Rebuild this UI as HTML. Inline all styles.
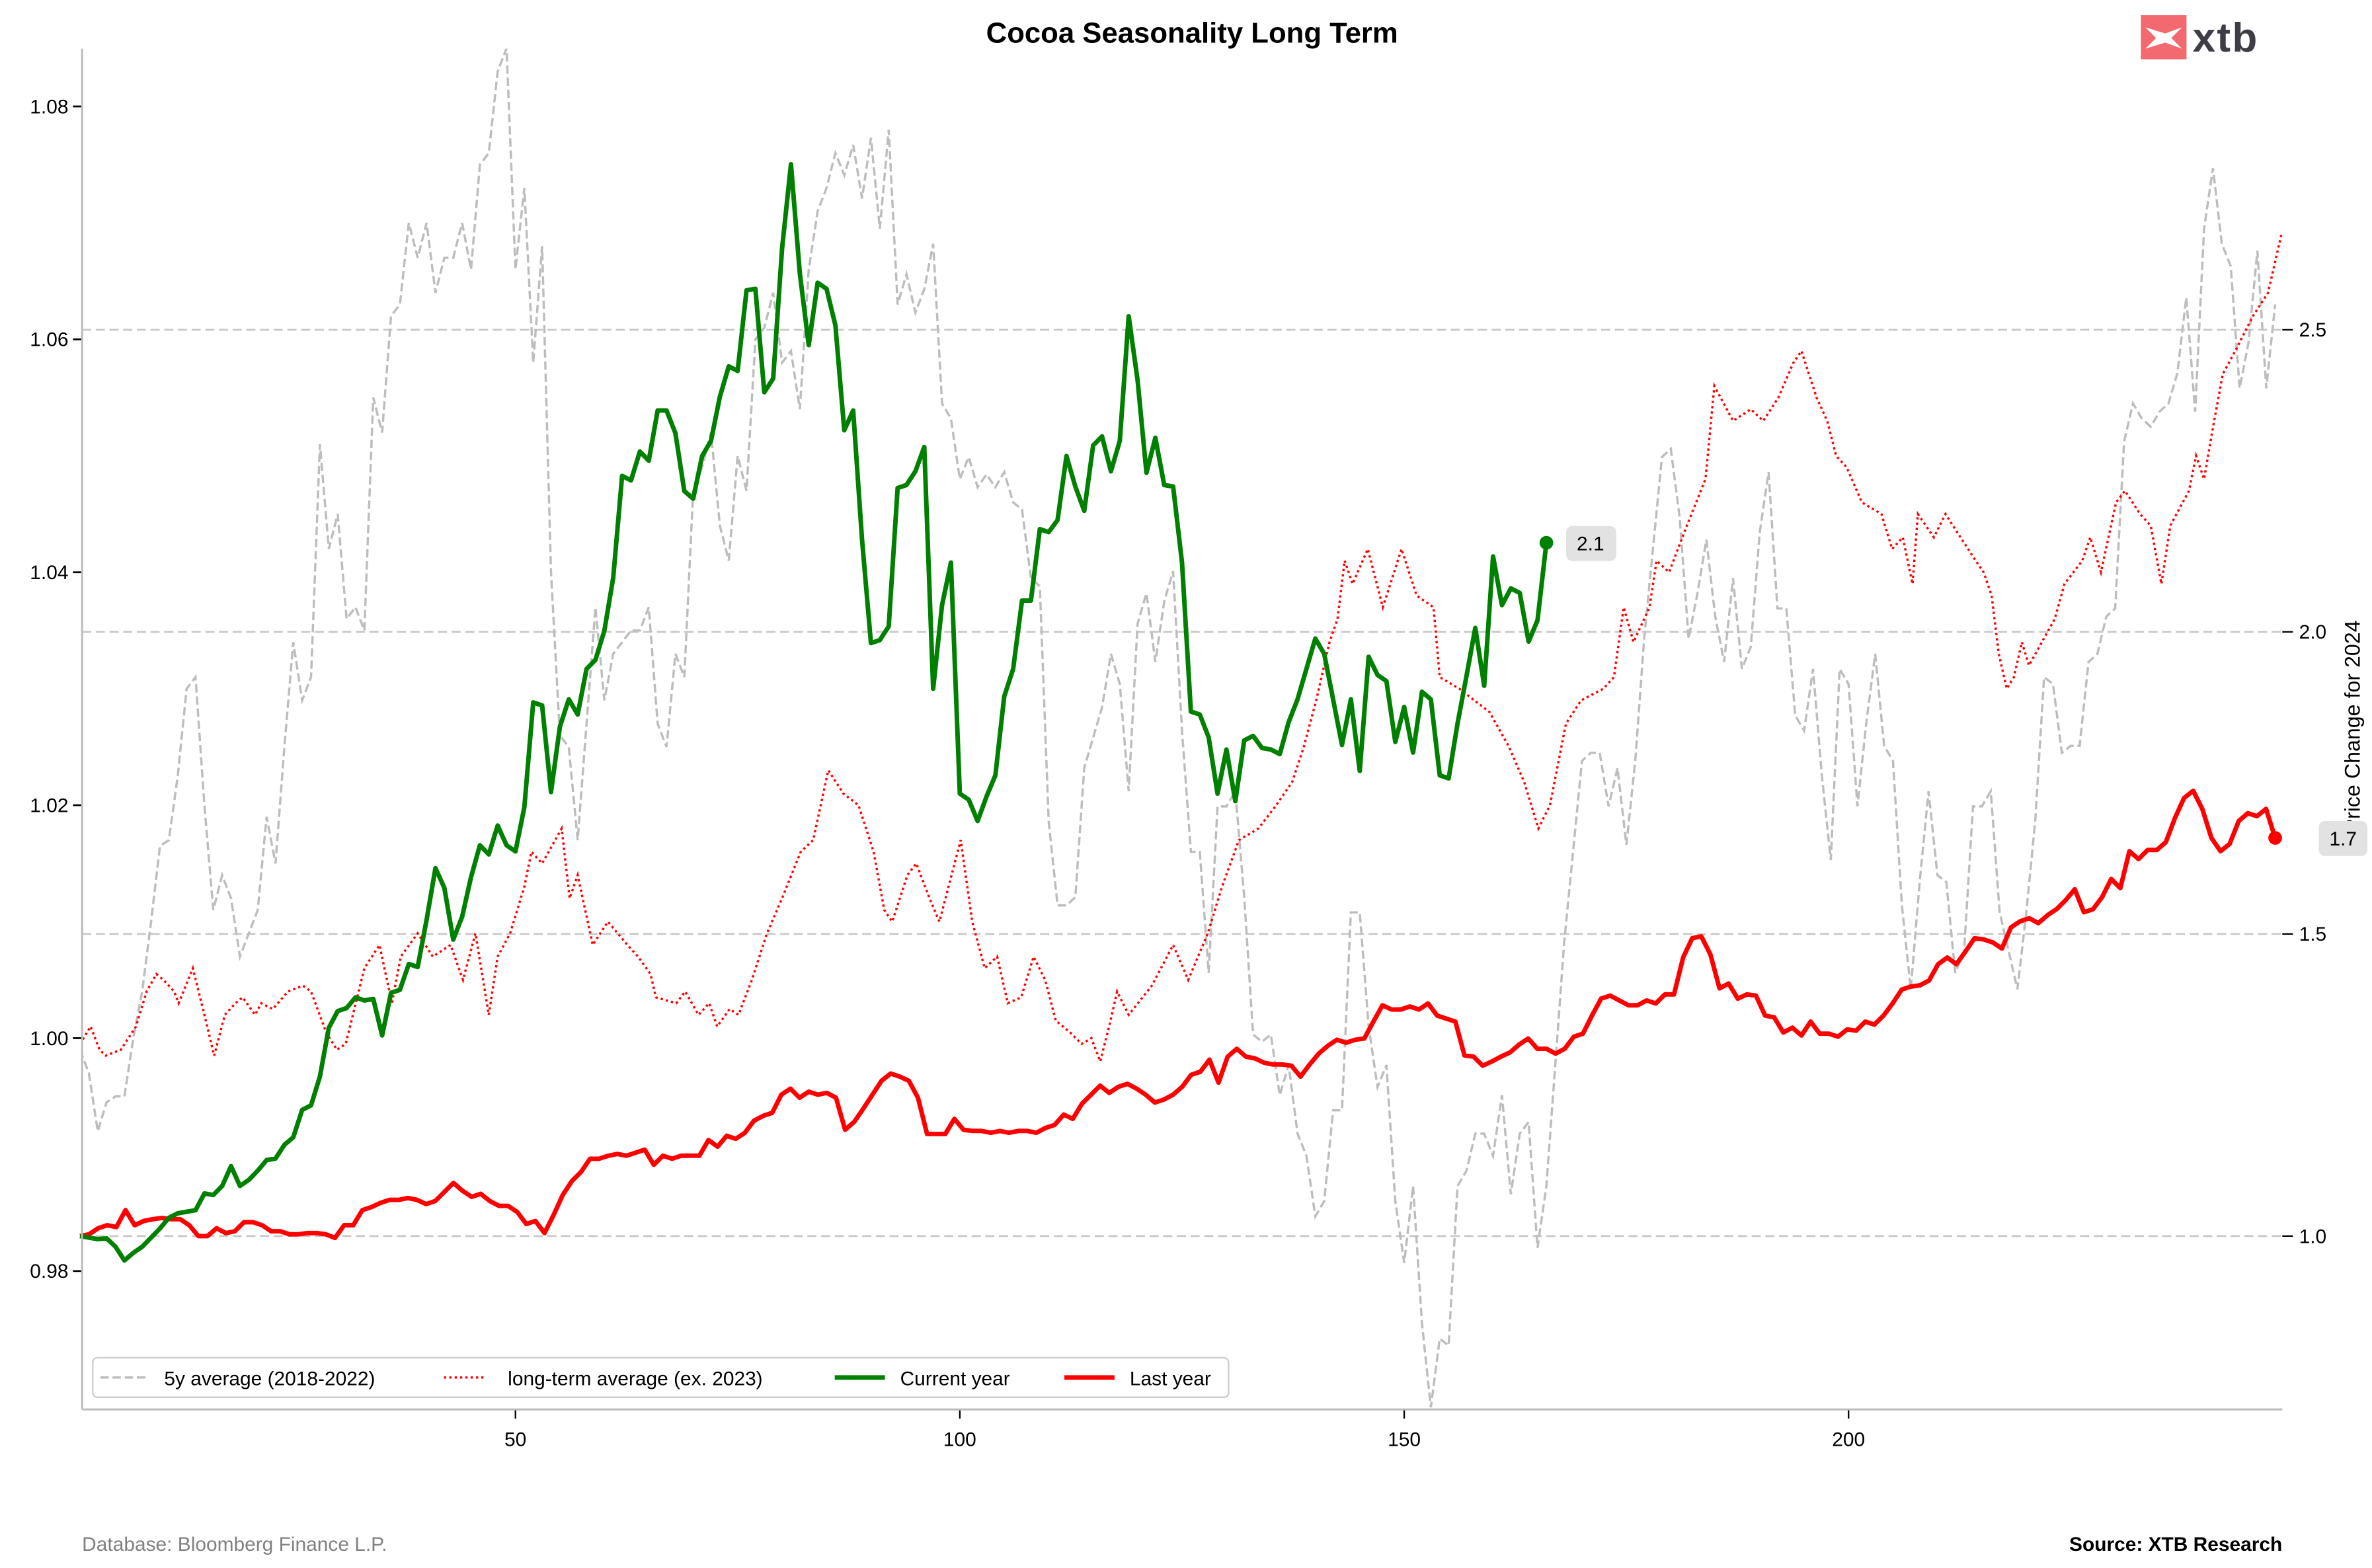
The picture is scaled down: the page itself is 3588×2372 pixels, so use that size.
<!DOCTYPE html>
<html><head><meta charset="utf-8"><style>
html,body{margin:0;padding:0;background:#fff;}
svg{display:block;font-family:"Liberation Sans",Arial,sans-serif;}
</style></head><body>
<svg id="chart" width="3588" height="2372" viewBox="0 0 1560 1031.3" preserveAspectRatio="none" xmlns="http://www.w3.org/2000/svg">
<rect x="0" y="0" width="1560" height="1031.3" fill="#fff"/>
<text x="784" y="28" text-anchor="middle" font-size="19" font-weight="bold" fill="#000">Cocoa Seasonality Long Term</text>
<g>
<rect x="1408" y="10" width="30" height="29" fill="#f26a6f"/>
<path d="M1411 18 L1424 22 L1435 18 L1428 25 L1435 32 L1424 28 L1411 32 L1418 25 Z" fill="#fff"/>
<text x="1442" y="34" font-size="27" font-weight="bold" fill="#3d3d45" letter-spacing="1">xtb</text>
</g>
<g id="grid"></g>
<g id="series"></g>
<g id="axes"></g>
<g>
<rect x="61" y="893" width="747" height="26" rx="3" fill="#fff" fill-opacity="0.85" stroke="#ccc" stroke-width="1"/>
<line x1="66" y1="906" x2="97" y2="906" stroke="#bbb" stroke-width="1.5" stroke-dasharray="5.5,2.5"/>
<text x="108" y="911" font-size="13">5y average (2018-2022)</text>
<line x1="292" y1="906" x2="320" y2="906" stroke="#f00" stroke-width="1.5" stroke-dasharray="1.5,2"/>
<text x="334" y="911" font-size="13">long-term average (ex. 2023)</text>
<line x1="549" y1="906" x2="582" y2="906" stroke="#008000" stroke-width="3"/>
<text x="592" y="911" font-size="13">Current year</text>
<line x1="700" y1="906" x2="733" y2="906" stroke="#f00" stroke-width="3"/>
<text x="743" y="911" font-size="13">Last year</text>
</g>
<text transform="translate(1552,478) rotate(-90)" text-anchor="middle" font-size="14">Price Change for 2024</text>
<g>
<rect x="1030" y="346" width="33" height="23" rx="4" fill="#e2e2e2"/>
<text x="1046" y="362" text-anchor="middle" font-size="13">2.1</text>
</g>
<g>
<rect x="1525" y="540" width="32" height="23" rx="4" fill="#e2e2e2"/>
<text x="1541" y="556" text-anchor="middle" font-size="13">1.7</text>
</g>
<text x="54" y="1020" font-size="13" fill="#808080">Database: Bloomberg Finance L.P.</text>
<text x="1501" y="1020" text-anchor="end" font-size="13" font-weight="bold">Source: XTB Research</text>
</svg>
<script>
const xTicks=[50,100,150,200];
const leftTicks=[0.98,1.00,1.02,1.04,1.06,1.08];
const leftTickLabels=["0.98","1.00","1.02","1.04","1.06","1.08"];
const rightTicks=[1.0,1.5,2.0,2.5];
const rightTickLabels=["1.0","1.5","2.0","2.5"];
const greyValues=[0.999,0.997,0.992,0.9945,0.995,0.995,1.000,1.004,1.010,1.0165,1.017,1.0225,1.030,1.031,1.020,1.011,1.014,1.012,1.007,1.009,1.011,1.019,1.015,1.025,1.034,1.029,1.031,1.051,1.042,1.045,1.036,1.037,1.035,1.055,1.052,1.062,1.063,1.070,1.067,1.070,1.064,1.067,1.067,1.070,1.066,1.075,1.076,1.083,1.085,1.066,1.073,1.058,1.068,1.040,1.026,1.025,1.017,1.027,1.037,1.029,1.033,1.034,1.035,1.035,1.037,1.027,1.025,1.033,1.031,1.047,1.049,1.052,1.044,1.041,1.050,1.047,1.060,1.061,1.064,1.058,1.059,1.054,1.066,1.071,1.073,1.076,1.0741,1.0767,1.0721,1.0773,1.0695,1.078,1.063,1.0656,1.0623,1.0643,1.0682,1.0545,1.0532,1.048,1.0499,1.0473,1.0484,1.0473,1.0486,1.046,1.0454,1.0395,1.0388,1.0186,1.0114,1.0114,1.0121,1.0232,1.0258,1.0284,1.033,1.0304,1.0212,1.0356,1.0382,1.0323,1.0375,1.0401,1.0264,1.016,1.016,1.0056,1.0199,1.0199,1.0212,1.0121,1.0003,0.9997,1.0003,0.9951,0.9977,0.9918,0.9899,0.9847,0.986,0.9938,0.9938,1.0108,1.0108,1.001,0.9958,0.9977,0.986,0.9807,0.9873,0.9755,0.9683,0.9742,0.9736,0.9873,0.9886,0.9918,0.9918,0.9899,0.9951,0.9866,0.9918,0.9928,0.982,0.9873,0.9977,1.0082,1.016,1.0238,1.0245,1.0245,1.0199,1.0232,1.0166,1.0238,1.0343,1.0421,1.0499,1.0506,1.0447,1.0343,1.0382,1.0428,1.0362,1.0323,1.0395,1.0317,1.0336,1.0434,1.0486,1.0369,1.0369,1.0277,1.0264,1.0317,1.0225,1.0153,1.0317,1.0304,1.0199,1.0271,1.033,1.0251,1.0238,1.0114,1.0042,1.0134,1.0212,1.014,1.0134,1.0056,1.0075,1.0199,1.0199,1.0212,1.0108,1.0075,1.0042,1.0108,1.0186,1.031,1.0304,1.0245,1.0251,1.0251,1.0323,1.033,1.0362,1.0369,1.0512,1.0545,1.0532,1.0525,1.0538,1.0545,1.0571,1.0636,1.0538,1.0695,1.0747,1.0682,1.0663,1.0558,1.0597,1.0676,1.0558,1.063];
const dottedDays=[1,2.2,3.2,3.9,5.6,7.3,8.5,9.6,10.4,11.6,12.1,13.7,15,16.1,17.3,18.5,19.3,20.7,21.4,22.7,24.4,26.1,27,28.7,29.9,30.9,33,34.7,36.1,37.1,39,40.7,42.7,44.1,45.5,47,48,49.4,51,51.8,53,55.2,56.1,57,58.7,60.4,62.6,63.8,65.2,65.8,68.1,69.1,70.6,71.8,72.7,74.1,75.1,76.6,78.3,80,82.1,83.5,85.2,86.9,88.6,90.3,91.5,92.4,94.1,95.1,96.6,97.7,100.1,101.4,102.8,104.2,105.4,106.9,108.3,109.6,110.8,112.4,113.7,114.8,115.8,116.8,117.7,119,121.6,124,125.7,127.9,129.5,131.4,133.6,135.6,137.4,138.7,140.1,141.6,142.5,143.3,144.2,145.9,147.6,149.7,151.4,153.3,154,156.2,159.6,161.8,163.5,165.1,166.4,168.2,169.9,172.4,173.6,174.7,175.8,177.6,178.4,179.8,181.8,183.9,184.9,187,189,190.4,192.1,193.8,194.7,196.4,197.6,198.6,199.8,201.5,203.7,204.9,206.1,207.2,207.8,209.6,210.9,212.6,214.3,215.2,216.1,216.9,217.8,218.6,219.5,220.3,223.2,224.3,226.3,227.2,228.4,230.1,231.1,232.8,234,235.2,236.2,238.3,239.1,240,240.9,242.1,243.5,245.5,247.2,248.7];
const dottedValues=[0.9995,1.001,0.999,0.9985,0.999,1.001,1.004,1.0055,1.005,1.004,1.003,1.006,1.002,0.9985,1.002,1.003,1.0035,1.002,1.003,1.0025,1.004,1.0045,1.004,1.0005,0.999,0.9995,1.006,1.008,1.003,1.007,1.009,1.007,1.008,1.005,1.009,1.002,1.007,1.009,1.013,1.016,1.015,1.018,1.012,1.014,1.008,1.010,1.008,1.007,1.0055,1.0035,1.003,1.004,1.002,1.003,1.001,1.0025,1.002,1.005,1.009,1.012,1.016,1.017,1.023,1.021,1.020,1.016,1.011,1.010,1.014,1.015,1.012,1.010,1.017,1.010,1.006,1.007,1.003,1.0035,1.007,1.005,1.0015,1.0005,0.9995,1.000,0.998,1.001,1.004,1.002,1.0045,1.008,1.005,1.009,1.013,1.017,1.018,1.020,1.022,1.025,1.029,1.034,1.036,1.041,1.039,1.042,1.037,1.042,1.038,1.037,1.031,1.030,1.028,1.025,1.022,1.018,1.020,1.027,1.029,1.030,1.031,1.037,1.034,1.037,1.041,1.040,1.044,1.048,1.056,1.053,1.054,1.053,1.055,1.058,1.059,1.055,1.053,1.050,1.049,1.046,1.045,1.042,1.043,1.039,1.045,1.043,1.045,1.043,1.041,1.040,1.038,1.033,1.030,1.031,1.034,1.032,1.036,1.039,1.041,1.043,1.040,1.046,1.047,1.045,1.044,1.039,1.044,1.047,1.050,1.048,1.052,1.057,1.059,1.062,1.064,1.069];
const greenValues=[1.000,0.9975,0.995,0.9962,0.9824,0.9597,0.9723,0.9824,0.9975,1.0126,1.0302,1.0377,1.0403,1.0428,1.0705,1.068,1.083,1.1158,1.083,1.0931,1.1082,1.1258,1.1283,1.151,1.1635,1.2088,1.2164,1.2642,1.3447,1.3724,1.3774,1.395,1.39,1.3925,1.3321,1.4026,1.4076,1.4504,1.4454,1.5234,1.609,1.5763,1.4907,1.5285,1.5939,1.6468,1.6317,1.6795,1.6468,1.6367,1.7097,1.8833,1.8783,1.7349,1.8431,1.8884,1.8632,1.9387,1.9537,2.0016,2.0896,2.2582,2.2507,2.2985,2.2834,2.3664,2.3664,2.3287,2.2331,2.2205,2.291,2.3161,2.3891,2.4394,2.4319,2.5653,2.5678,2.3966,2.4193,2.6344,2.774,2.5929,2.4746,2.5778,2.5678,2.5074,2.3337,2.3664,2.1525,1.9814,1.9864,2.009,2.2381,2.2431,2.2657,2.306,1.9059,2.0443,2.1147,1.7323,1.7223,1.6871,1.7273,1.7626,1.8933,1.9387,2.0518,2.0518,2.1701,2.1651,2.1852,2.291,2.2405,2.2003,2.3085,2.3236,2.2657,2.3161,2.5224,2.4167,2.2632,2.3211,2.2431,2.2405,2.1147,1.8681,1.8632,1.8254,1.7323,1.8053,1.7198,1.8204,1.8279,1.8078,1.8053,1.7977,1.8506,1.8884,1.9387,1.989,1.9638,1.8884,1.8128,1.8884,1.77,1.9588,1.9286,1.9186,1.8179,1.8757,1.8003,1.9009,1.8884,1.7626,1.7575,1.8481,1.9261,2.0066,1.9109,2.1248,2.0443,2.072,2.0645,1.984,2.0192,2.1475];
const redValues=[1.000,1.003,1.013,1.018,1.015,1.043,1.018,1.025,1.028,1.030,1.028,1.028,1.018,1.000,1.000,1.013,1.005,1.008,1.023,1.023,1.018,1.008,1.008,1.003,1.003,1.005,1.005,1.003,0.997,1.018,1.018,1.043,1.048,1.055,1.060,1.060,1.063,1.060,1.053,1.058,1.073,1.088,1.075,1.065,1.070,1.058,1.050,1.050,1.040,1.020,1.025,1.005,1.035,1.068,1.091,1.106,1.128,1.128,1.133,1.136,1.133,1.138,1.143,1.118,1.133,1.128,1.133,1.133,1.133,1.159,1.148,1.166,1.161,1.171,1.191,1.199,1.204,1.234,1.244,1.229,1.239,1.234,1.237,1.229,1.176,1.189,1.211,1.234,1.257,1.269,1.264,1.257,1.229,1.169,1.169,1.169,1.194,1.176,1.174,1.174,1.171,1.174,1.171,1.174,1.174,1.171,1.179,1.184,1.201,1.194,1.219,1.234,1.249,1.237,1.247,1.252,1.244,1.234,1.221,1.226,1.234,1.247,1.267,1.272,1.292,1.254,1.297,1.310,1.297,1.294,1.287,1.284,1.284,1.282,1.264,1.284,1.302,1.315,1.325,1.320,1.325,1.327,1.355,1.382,1.375,1.375,1.380,1.375,1.385,1.365,1.360,1.355,1.299,1.297,1.282,1.289,1.297,1.304,1.317,1.327,1.310,1.310,1.302,1.310,1.330,1.335,1.365,1.393,1.398,1.390,1.382,1.382,1.390,1.385,1.400,1.400,1.461,1.493,1.496,1.466,1.410,1.418,1.393,1.400,1.398,1.365,1.362,1.337,1.345,1.332,1.355,1.335,1.335,1.330,1.342,1.340,1.355,1.350,1.365,1.385,1.408,1.413,1.415,1.423,1.450,1.461,1.450,1.471,1.493,1.491,1.486,1.476,1.511,1.521,1.526,1.518,1.531,1.541,1.556,1.574,1.536,1.541,1.561,1.591,1.576,1.637,1.624,1.639,1.639,1.652,1.692,1.725,1.737,1.707,1.659,1.637,1.649,1.687,1.700,1.695,1.707,1.659];

const NS="http://www.w3.org/2000/svg";
const PL=54,PR=1501,PT=32,PB=927;
function xScale(d){return 339+(d-50)*5.845;}
function yLeft(v){return 70+(1.08-v)*7660;}
function yRight(v){return 813-(v-1.0)*397.4;}
function mk(tag,attrs,parent){const e=document.createElementNS(NS,tag);for(const k in attrs)e.setAttribute(k,attrs[k]);parent.appendChild(e);return e;}
const grid=document.getElementById('grid'),series=document.getElementById('series'),axes=document.getElementById('axes');

rightTicks.forEach((t,i)=>{
  const y=yRight(t);
  const g=mk('line',{x1:PL,x2:PR,y1:y,y2:y,stroke:'#c8c8c8','stroke-width':1.2,'stroke-dasharray':'6,3'},grid);
  
  
  const tk=mk('line',{x1:PR,x2:PR+7,y1:y,y2:y,stroke:'#000','stroke-width':1},axes);
  
  
  const tx=mk('text',{x:PR+11,y:y+4.5,'font-size':13},axes);
  tx.textContent=rightTickLabels[i];
  
  
});
leftTicks.forEach((t,i)=>{
  const y=yLeft(t);
  const tk=mk('line',{x1:PL-6,x2:PL,y1:y,y2:y,stroke:'#000','stroke-width':1.2},axes);
  
  
  const tx=mk('text',{x:PL-9,y:y+4.5,'font-size':13,'text-anchor':'end'},axes);
  tx.textContent=leftTickLabels[i];
  
  
});
xTicks.forEach(t=>{
  const x=xScale(t);
  const tk=mk('line',{x1:x,x2:x,y1:PB,y2:PB+6,stroke:'#000','stroke-width':1},axes);
  
  
  const tx=mk('text',{x:x,y:PB+24,'font-size':13,'text-anchor':'middle'},axes);
  tx.textContent=String(t);
  
  
});
const ls=mk('line',{x1:PL,x2:PL,y1:PT,y2:PB,stroke:'#bbb','stroke-width':1.3},axes);


const bs=mk('line',{x1:PL,x2:PR,y1:PB,y2:PB,stroke:'#bbb','stroke-width':1.3},axes);



function pathFrom(days,vals,yf){let d='';for(let i=0;i<vals.length;i++){const x=xScale(days[i]),y=yf(vals[i]);d+=(i?'L':'M')+x.toFixed(2)+' '+y.toFixed(2);}return d;}
const clip=mk('clipPath',{id:'plotclip'},series);
mk('rect',{x:PL,y:PT,width:PR-PL,height:PB-PT},clip);

const greyDays=greyValues.map((v,i)=>i+1);
const p1=mk('path',{d:pathFrom(greyDays,greyValues,yLeft),fill:'none',stroke:'#bdbdbd','stroke-width':1.5,'stroke-dasharray':'5.5,2.5','clip-path':'url(#plotclip)'},series);


const p2=mk('path',{d:pathFrom(dottedDays,dottedValues,yLeft),fill:'none',stroke:'#f00','stroke-width':1.5,'stroke-dasharray':'1.5,2','clip-path':'url(#plotclip)'},series);


const redDays=redValues.map((v,i)=>1+i*247/(redValues.length-1));
const p4=mk('path',{d:pathFrom(redDays,redValues,yRight),fill:'none',stroke:'#f00','stroke-width':3,'stroke-linejoin':'round'},series);


const greenDays=greenValues.map((v,i)=>i+1);
const p3=mk('path',{d:pathFrom(greenDays,greenValues,yRight),fill:'none',stroke:'#008000','stroke-width':3,'stroke-linejoin':'round'},series);


const gl=greenValues.length-1;
const c1=mk('circle',{cx:xScale(greenDays[gl]),cy:yRight(greenValues[gl]),r:4.5,fill:'#008000'},series);


const rl=redValues.length-1;
const c2=mk('circle',{cx:xScale(redDays[rl]),cy:yRight(redValues[rl]),r:4.5,fill:'#f00'},series);


</script>
</body></html>
